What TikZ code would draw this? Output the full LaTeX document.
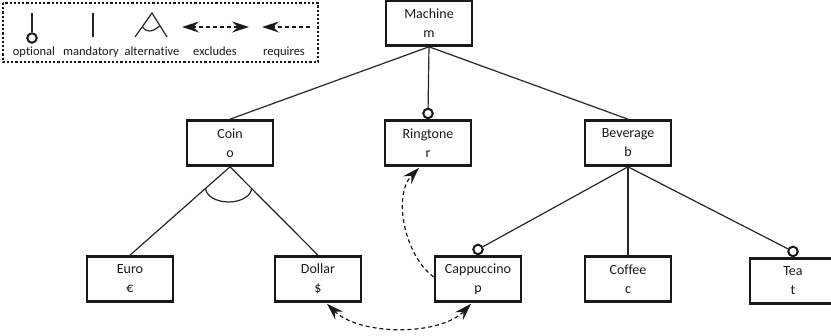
\documentclass[tikz,border=0pt]{standalone}
\usepackage{fontspec}
\setmainfont[Ligatures=NoCommon]{Carlito}
\usetikzlibrary{arrows.meta,calc}
\begin{document}
\begin{tikzpicture}[x=1pt,y=1pt,
  feature/.style={draw=black!90, line width=2.6pt, minimum width=86pt, minimum height=45pt,
    align=center, inner sep=0pt, text=black!90, font=\fontsize{14}{19}\selectfont},
  link/.style={line width=1.2pt, draw=black!85},
  optmark/.style={draw=black!90, circle, line width=2pt, fill=white, minimum size=9.5pt, inner sep=0pt},
  bigtip/.tip={Stealth[length=17pt,width=11pt,inset=6pt]},
  dep/.style={line width=1.2pt, draw=black!90, dash pattern=on 4pt off 3pt},
  requires/.style={dep, -bigtip},
  excludes/.style={dep, bigtip-bigtip},
  legendtext/.style={anchor=base, inner sep=0pt, text=black!90, font=\fontsize{12.5}{14}\selectfont}
]
\useasboundingbox (0,0) rectangle (831,336);

% ---------- legend ----------
\draw[line width=2.4pt, draw=black!90, dash pattern=on 2.2pt off 2pt] (3,333) rectangle (318,274);

% optional
\coordinate (lo1) at (32,323);
\node[optmark] (lo2) at (32,298) {};
\draw[link] (lo1) -- (lo2);
\node[legendtext] (lot) at (34,280) {optional};
% mandatory
\coordinate (lm1) at (93,323);
\coordinate (lm2) at (93,299);
\draw[link] (lm1) -- (lm2);
\node[legendtext] (lmt) at (91,280) {mandatory};
% alternative
\coordinate (la0) at (152,323);
\coordinate (la1) at (135,299);
\coordinate (la2) at (167,299);
\draw[link] (la1) -- (la0) -- (la2);
\draw[link] (142.5,309) .. controls (146,304) and (152,303) .. (159.5,310);
\node[legendtext] (lat) at (152,280) {alternative};
% excludes
\coordinate (le1) at (182,309);
\coordinate (le2) at (249,309);
\draw[excludes] (le1) -- (le2);
\node[legendtext] (let) at (215,280) {excludes};
% requires
\coordinate (lr1) at (310,309);
\coordinate (lr2) at (262,309);
\draw[requires] (lr1) -- (lr2);
\node[legendtext] (lrt) at (284,280) {requires};

% ---------- feature boxes ----------
\node[feature] (m)   at (429,313) {Machine\\m};
\node[feature] (c)   at (230,193) {Coin\\o};
\node[feature] (r)   at (428,193) {Ringtone\\r};
\node[feature] (b)   at (628,193) {Beverage\\b};
\node[feature] (eu)  at (130,57)  {Euro\\€};
\node[feature] (d)   at (318,57)  {Dollar\\\$};
\node[feature] (p)   at (478,57)  {Cappuccino\\p};
\node[feature] (cf)  at (628,57)  {Coffee\\c};
\node[feature] (t)   at (793,55)  {Tea\\t};

% ---------- tree edges ----------
\draw[link] (m.south) -- (c.north);
\draw[link] (m.south) -- (b.north);
\node[optmark, anchor=south] (ro) at (r.north) {};
\draw[link] (m.south) -- (ro);

\draw[link] (c.south) -- (eu.north);
\draw[link] (c.south) -- (d.north);
\draw[link] (205.6,148) arc[start angle=180, end angle=360, x radius=23, y radius=14];

\node[optmark, anchor=south] (po) at (p.north) {};
\node[optmark, anchor=south] (to) at (t.north) {};
\draw[link] (b.south) -- (po);
\draw[link] (b.south) -- (cf.north);
\draw[link] (b.south) -- (to);

% ---------- cross-tree constraints ----------
\draw[requires] ($(p.west)+(0,2)$) .. controls (405,80) and (392,140) .. ($(r.south)+(-9,-1)$);
\draw[excludes] ($(d.south)+(9,-1)$) .. controls (360,0) and (440,0) .. ($(p.south)+(-7,-1)$);
\end{tikzpicture}
\end{document}
